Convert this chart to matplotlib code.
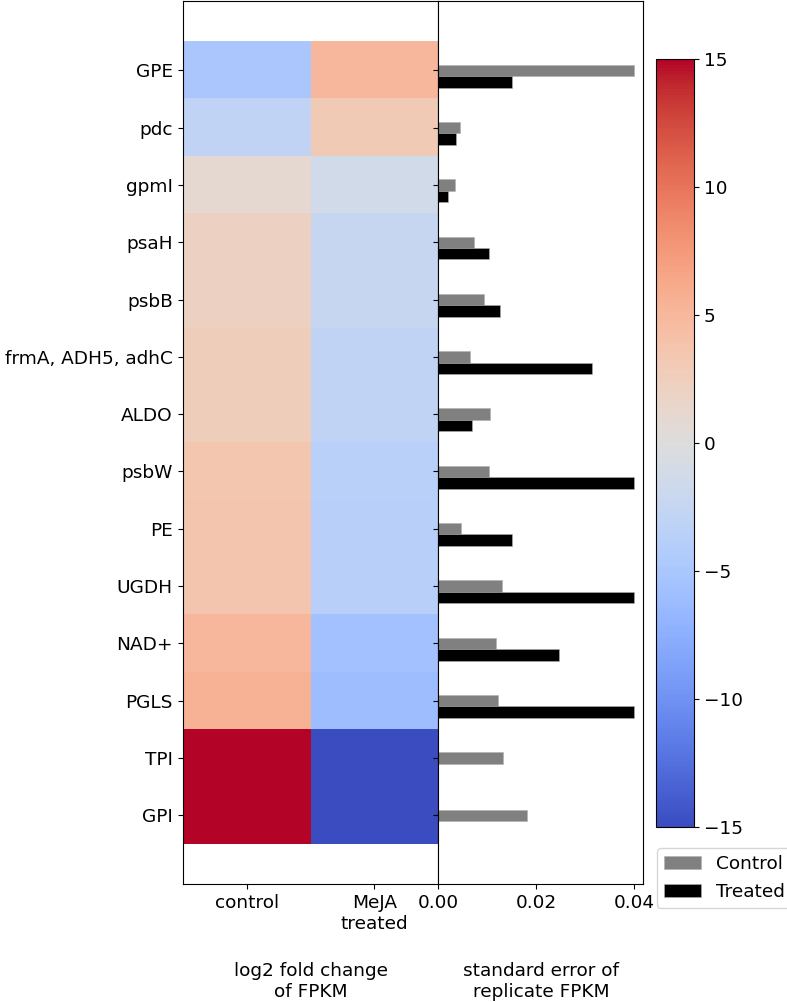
import numpy as np
import matplotlib
matplotlib.use('Agg')
import matplotlib.pyplot as plt

# genes (top to bottom)
genes = ['GPE', 'pdc', 'gpmI', 'psaH', 'psbB', 'frmA, ADH5, adhC', 'ALDO',
         'psbW', 'PE', 'UGDH', 'NAD+', 'PGLS', 'TPI', 'GPI']
conditions = ['control', 'MeJA\ntreated']

# log2 fold change of FPKM
lfc_control = [-5.0, -3.0, 1.0, 2.0, 2.0, 2.6, 2.6, 3.5, 3.6, 3.6, 5.0, 5.4, 15.0, 15.0]
lfc_meja = [5.0, 3.0, -1.3, -2.4, -2.4, -3.0, -3.0, -3.6, -3.8, -3.8, -5.6, -6.0, -15.0, -15.0]

# standard error of replicate FPKM
se_control = [0.040, 0.0044, 0.0035, 0.0072, 0.0094, 0.0065, 0.0106,
              0.0104, 0.0047, 0.0131, 0.0117, 0.0122, 0.0132, 0.0181]
se_treated = [0.0151, 0.0037, 0.0019, 0.0104, 0.0127, 0.0314, 0.0069,
              0.040, 0.0151, 0.040, 0.0247, 0.040, 0.0, 0.0]

plt.rcParams['font.size'] = 13.3
W, H = 787, 1002
fig = plt.figure(figsize=(W / 100, H / 100), dpi=100)

ax1 = fig.add_axes([182.7 / W, 1 - 884 / H, 255.6 / W, 883 / H])
ax2 = fig.add_axes([438.3 / W, 1 - 884 / H, 204.7 / W, 883 / H])
cax = fig.add_axes([656 / W, 1 - 826.7 / H, 38.3 / W, 767.4 / H])

data = np.column_stack([lfc_control, lfc_meja])
n = len(genes)
im = ax1.imshow(data, cmap='coolwarm', vmin=-15, vmax=15, aspect='auto',
                extent=[-0.5, 1.5, n - 0.5, -0.5], interpolation='nearest')
ax1.set_xlim(-0.5, 1.5)
ax1.set_ylim(n + 0.2, -1.21)
ax1.set_xticks([0, 1])
ax1.set_xticklabels(conditions)
ax1.set_yticks(np.arange(n))
ax1.set_yticklabels(genes)

y = np.arange(n)
b1 = ax2.barh(y, se_control, height=0.2, color='grey', edgecolor='#b0b0b0', linewidth=0.4, label='Control')
b2 = ax2.barh(y + 0.2, se_treated, height=0.2, color='black', edgecolor='#b0b0b0', linewidth=0.4, label='Treated')
ax2.set_ylim(n + 0.2, -1.21)
ax2.set_xlim(0, 0.0418)
ax2.set_xticks([0, 0.02, 0.04])
ax2.set_xticklabels(['0.00', '0.02', '0.04'])
ax2.set_yticks(y)
ax2.set_yticklabels([])

cb = fig.colorbar(im, cax=cax, ticks=[-15, -10, -5, 0, 5, 10, 15])

fig.legend(handles=[b1, b2], loc='upper left', borderaxespad=0,
           bbox_to_anchor=(657 / W, 1 - 848 / H))

fig.text(311 / W, 1 - 962 / H, 'log2 fold change\nof FPKM', ha='center', va='top', multialignment='center')
fig.text(541 / W, 1 - 962 / H, 'standard error of\nreplicate FPKM', ha='center', va='top', multialignment='center')

fig.savefig('out.png', dpi=100)
